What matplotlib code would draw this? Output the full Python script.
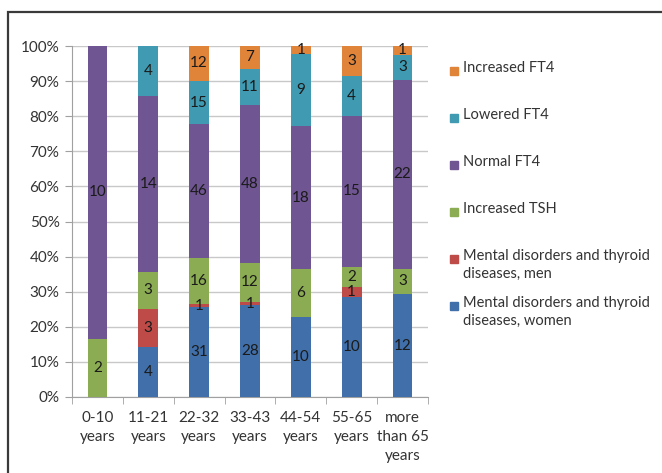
import matplotlib.pyplot as plt
from matplotlib.patches import Rectangle
import numpy as np

plt.rcParams['font.family'] = ['Lato', 'DejaVu Sans']

# --- Data: patient counts per age group ---
age_groups = ['0-10\nyears', '11-21\nyears', '22-32\nyears', '33-43\nyears',
              '44-54\nyears', '55-65\nyears', 'more\nthan 65\nyears']
women = [0, 4, 31, 28, 10, 10, 12]
men = [0, 3, 1, 1, 0, 1, 0]
increased_tsh = [2, 3, 16, 12, 6, 2, 3]
normal_ft4 = [10, 14, 46, 48, 18, 15, 22]
lowered_ft4 = [0, 4, 15, 11, 9, 4, 3]
increased_ft4 = [0, 0, 12, 7, 1, 3, 1]

series_names = ['Mental disorders and thyroid\ndiseases, women',
                'Mental disorders and thyroid\ndiseases, men',
                'Increased TSH', 'Normal FT4', 'Lowered FT4', 'Increased FT4']
series_values = [women, men, increased_tsh, normal_ft4, lowered_ft4, increased_ft4]
colors = ['#416FAA', '#BE4B48', '#8BAC52', '#6F5591', '#409BB2', '#E0843A']

W, H = 662, 473
fig = plt.figure(figsize=(W / 100, H / 100), dpi=100)
ax = fig.add_axes([72 / W, 1 - 397 / H, (428 - 72) / W, (397 - 46) / H])

counts = np.array(series_values, dtype=float)
totals = counts.sum(axis=0)
shares = counts / totals * 100
x = np.arange(len(age_groups))
bottom = np.zeros(len(age_groups))

for vals, pct, color in zip(series_values, shares, colors):
    ax.bar(x, pct, bottom=bottom, width=0.39, color=color, zorder=3)
    for xi, v, p, b in zip(x, vals, pct, bottom):
        if v > 0:
            ax.text(xi, b + p / 2, str(v), ha='center', va='center',
                    fontsize=11, color='#1a1a1a', zorder=4)
    bottom += pct

ax.set_xlim(-0.5, len(age_groups) - 0.5)
ax.set_ylim(0, 100)
ax.set_yticks(np.arange(0, 101, 10))
ax.set_yticklabels([f'{t}%' for t in range(0, 101, 10)], fontsize=11, color='#333333')
ax.set_xticks(x)
ax.set_xticklabels(age_groups, fontsize=11, color='#333333', linespacing=1.45)
ax.set_xticks(np.arange(-0.5, len(age_groups), 1), minor=True)
ax.tick_params(axis='x', which='major', length=0, pad=10)
ax.tick_params(axis='x', which='minor', length=5, color='#A0A0A0')
ax.tick_params(axis='y', length=5, color='#A0A0A0', pad=4)

ax.grid(axis='y', color='#C8C8C8', linewidth=1, zorder=0)
for side in ['top', 'right']:
    ax.spines[side].set_visible(False)
for side in ['left', 'bottom']:
    ax.spines[side].set_color('#A0A0A0')

# --- Legend, top entry first ---
legend_y = [71, 118, 165, 212, 259, 306]
for name, color, ypx in zip(series_names[::-1], colors[::-1], legend_y):
    fig.patches.append(Rectangle((450 / W, 1 - (ypx + 4) / H), 8 / W, 8 / H,
                                 transform=fig.transFigure, color=color))
    fig.text(463 / W, 1 - (ypx - 10) / H, name, ha='left', va='top',
             fontsize=10.5, color='#333333', linespacing=1.35)

# outer frame of the chart
fig.patches.append(Rectangle((8 / W, -0.02), 1.0, 1 - 12 / H + 0.02,
                             transform=fig.transFigure, fill=False,
                             edgecolor='#3a3a3a', linewidth=1.6))

fig.savefig('out.png', dpi=100)
